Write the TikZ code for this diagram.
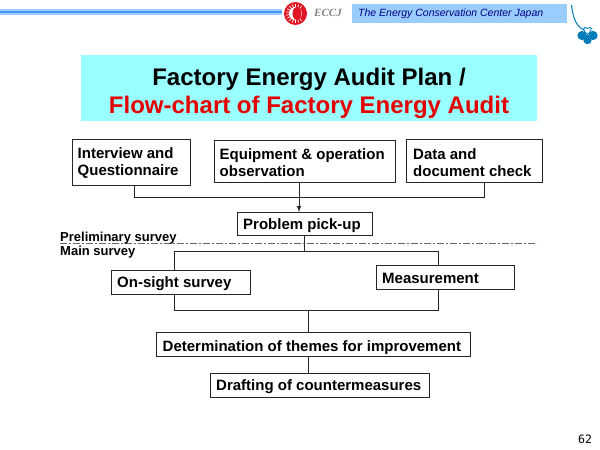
\documentclass[tikz,border=0pt]{standalone}
\usepackage{fontspec}
\setmainfont{Liberation Sans}
\newfontfamily\logofont{Liberation Serif}
\newfontfamily\pagefont{DejaVu Sans Mono}
\usepackage{tikz}
\definecolor{bannerblue}{RGB}{153,204,255}
\definecolor{linkblue}{RGB}{75,145,240}
\definecolor{titlecyan}{RGB}{153,255,255}
\definecolor{cloverblue}{RGB}{0,125,185}
\definecolor{eccjred}{RGB}{225,20,35}
\tikzset{
  flowbox/.style={draw=black!85, line width=1pt, inner sep=0pt, anchor=north west},
  flowtext/.style={font=\fontsize{15}{17}\selectfont\bfseries, align=left, anchor=west, inner sep=0pt},
  link/.style={draw=black!85, line width=1pt},
  surveytext/.style={font=\fontsize{13}{14}\selectfont\bfseries, anchor=west, inner sep=0pt}
}
\begin{document}
\begin{tikzpicture}[x=1pt, y=-1pt]
          \useasboundingbox (0, 0) rectangle (600, 450);

          % Header
          \fill [bannerblue] (0, 9) rectangle (281.5, 14.5);
          \fill [linkblue] (0, 10.5) rectangle (281.5, 13);
          \fill [bannerblue] (352, 4) rectangle (567, 23);
          \fill [eccjred] (295.5, 13.5) circle (11.5);
          \foreach \ang in {50, 70, ..., 310}
            \draw [white, line width=0.7pt] (295.5, 13.5) -- ++(\ang:9.5);
          \fill [white] (295.5, 13.5) circle (6.5);
          \fill [eccjred] (297, 13.5) ellipse (4.5 and 6.5);
          \node (eccj) at (328, 13) {\fontsize{11}{12}\logofont\bfseries\itshape\color{black!50}ECCJ};
          \node (center) [anchor=west, inner sep=0pt, text=blue!50!black] at (358, 14)
            {\fontsize{10.5}{12}\selectfont\itshape The Energy Conservation Center Japan};

          % Clover
          \draw [cloverblue, line width=1pt] (571.5, 5) .. controls (573, 19) and (577, 27) .. (584, 30);
          \fill [cloverblue] (582, 35.5) circle (4.6);
          \fill [cloverblue] (593, 35.5) circle (4.6);
          \fill [cloverblue] (587.5, 40) circle (4.2);
          \fill [cloverblue] (587.5, 34.5) -- (582, 39) -- (593, 39) -- cycle;
          \draw [cloverblue, line width=0.9pt] (587.5, 34.5) .. controls (581, 29) and (584, 25.5) .. (587.5, 28.5)
            .. controls (591, 25.5) and (594, 29) .. (587.5, 34.5);

          % Title
          \fill [titlecyan] (81, 55) rectangle (537, 121);
          \node (title) [align=center, inner sep=0pt, font=\fontsize{24}{28}\selectfont\bfseries] at (309, 93.5)
            {Factory Energy Audit Plan /\\ \textcolor{red!90!black}{Flow-chart of Factory Energy Audit}};

          % Boxes
          \node (interview) [flowbox, minimum width=118, minimum height=46] at (72, 139) {};
          \node (equipment) [flowbox, minimum width=181, minimum height=42] at (214, 140) {};
          \node (data) [flowbox, minimum width=136, minimum height=43] at (406, 139) {};
          \node (problem) [flowbox, minimum width=135, minimum height=23] at (237, 212) {};
          \node (onsight) [flowbox, minimum width=139, minimum height=24] at (111, 270) {};
          \node (measurement) [flowbox, minimum width=138, minimum height=24] at (376, 265) {};
          \node (themes) [flowbox, minimum width=314, minimum height=24] at (156, 332) {};
          \node (drafting) [flowbox, minimum width=219, minimum height=24] at (210, 373) {};

          \node (interviewtext) [flowtext] at (77.5, 163) {Interview and\\Questionnaire};
          \node (equipmenttext) [flowtext] at (219.5, 163) {Equipment \& operation\\observation};
          \node (datatext) [flowtext] at (413, 163) {Data and\\document check};
          \node (problemtext) [flowtext] at (243, 225.5) {Problem pick-up};
          \node (onsighttext) [flowtext] at (117, 283.5) {On-sight survey};
          \node (measurementtext) [flowtext] at (382, 278.5) {Measurement};
          \node (themestext) [flowtext] at (162.5, 347.5) {Determination of themes for improvement};
          \node (draftingtext) [flowtext] at (216, 386.5) {Drafting of countermeasures};

          % Survey line
          \coordinate (lineleft) at (60, 243);
          \coordinate (lineright) at (537, 243);
          \draw [black!60, line width=0.6pt, dash pattern=on 7pt off 2pt on 2pt off 2pt] (lineleft) -- (lineright);
          \node (preliminary) [surveytext] at (60, 238) {Preliminary survey};
          \node (mainsurvey) [surveytext] at (60, 252) {Main survey};

          % Upper links
          \coordinate (upperjoin) at (299, 197.5);
          \draw [link] (134, 185) -- (134, 197.5) -- (484, 197.5) -- (484, 182);
          \draw [link] (equipment.south -| upperjoin) -- (upperjoin);
          \draw [link, -latex] (upperjoin) -- (problem.north -| upperjoin);

          % Lower links
          \coordinate (midjoin) at (304, 251.5);
          \coordinate (lowjoin) at (308, 310);
          \draw [link] (problem.south -| midjoin) -- (midjoin);
          \draw [link] (174, 270) -- (174, 251.5) -- (438.5, 251.5) -- (438.5, 265);
          \draw [link] (174, 294) -- (174, 310) -- (438.5, 310) -- (438.5, 289);
          \draw [link] (lowjoin) -- (themes.north -| lowjoin);
          \draw [link] (themes.south -| lowjoin) -- (drafting.north -| lowjoin);

          \node (pagenum) [inner sep=0pt] at (585, 439.5) {\fontsize{11.5}{14}\pagefont 62};
        \end{tikzpicture}
\end{document}
